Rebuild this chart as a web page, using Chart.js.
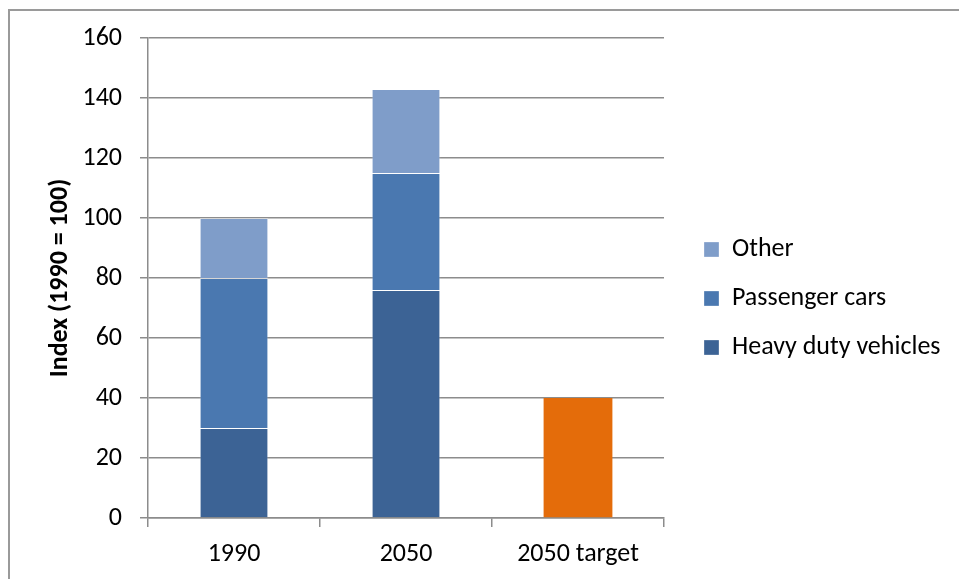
<!DOCTYPE html>
<html>
<head>
<meta charset="utf-8">
<script src="https://cdn.jsdelivr.net/npm/chart.js@4/dist/chart.umd.min.js"></script>
<style>
    html, body { margin: 0; padding: 0; background: #fff; }
    #wrap { position: relative; width: 959px; height: 579px; overflow: hidden; }
    #frame {
        position: absolute; left: 8px; top: 9px; width: 1000px; height: 700px;
        border-left: 2px solid #9a9a9a; border-top: 2px solid #9a9a9a;
        pointer-events: none;
    }
</style>
</head>
<body>
<div id="wrap">
    <canvas id="chart" width="959" height="579"></canvas>
    <div id="frame"></div>
</div>
<script>
// Chart data
const categories = ['1990', '2050', '2050 target'];
const heavyDuty = [30, 76, null];
const passengerCars = [50, 39, null];
const other = [20, 28, null];
const target = [null, null, 40];
const yTicks = [0, 20, 40, 60, 80, 100, 120, 140, 160];

const FONT = "Carlito, Lato, 'Open Sans', sans-serif";
const GRID = '#8c8c8c';

// legend gets a fixed width so the plot ends where the original does,
// then it is moved a bit right / up
const legendFix = {
    id: 'legendFix',
    beforeLayout(chart) {
        const lg = chart.legend;
        if (lg && !lg._fixed) {
            const fit = lg.fit.bind(lg);
            lg.fit = function () {
                fit();
                this.width = 295;
            };
            lg._fixed = true;
        }
    },
    afterLayout(chart) {
        const lg = chart.legend;
        if (lg) {
            lg.left += 17;
            lg.right += 17;
            lg.top -= 10;
            lg.bottom -= 10;
        }
    }
};

const ctx = document.getElementById('chart').getContext('2d');
new Chart(ctx, {
    type: 'bar',
    data: {
        labels: categories,
        datasets: [
            {
                label: 'Heavy duty vehicles',
                data: heavyDuty,
                backgroundColor: '#3c6395',
                borderColor: 'rgba(255,255,255,0.3)',
                borderWidth: 1
            },
            {
                label: 'Passenger cars',
                data: passengerCars,
                backgroundColor: '#4a78b0',
                borderColor: 'rgba(255,255,255,0.3)',
                borderWidth: 1
            },
            {
                label: 'Other',
                data: other,
                backgroundColor: '#7f9dc9',
                borderColor: 'rgba(255,255,255,0.3)',
                borderWidth: 1
            },
            {
                label: 'Target',
                data: target,
                backgroundColor: '#e46c0a',
                borderWidth: 0
            }
        ]
    },
    options: {
        responsive: false,
        animation: false,
        barPercentage: 0.4,
        categoryPercentage: 1.0,
        layout: {
            padding: { top: 38, right: 0, bottom: 0, left: 45 }
        },
        plugins: {
            tooltip: { enabled: false },
            legend: {
                position: 'right',
                reverse: true,
                labels: {
                    boxWidth: 15,
                    boxHeight: 15,
                    padding: 23,
                    color: '#000',
                    font: { family: FONT, size: 26 },
                    filter: item => item.text !== 'Target'
                }
            }
        },
        scales: {
            x: {
                stacked: true,
                afterFit: axis => { axis.height = 61; },
                grid: {
                    offset: true,
                    drawOnChartArea: false,
                    drawTicks: true,
                    tickLength: 9,
                    color: GRID,
                    lineWidth: 1.5
                },
                border: { display: true, color: GRID, width: 1.5 },
                ticks: {
                    color: '#000',
                    padding: 12,
                    font: { family: FONT, size: 26 }
                }
            },
            y: {
                stacked: true,
                min: 0,
                max: 160,
                afterFit: axis => { axis.width = 103; },
                afterBuildTicks: axis => {
                    axis.ticks = yTicks.map(v => ({ value: v }));
                },
                grid: {
                    color: GRID,
                    lineWidth: 1.5,
                    tickLength: 8
                },
                border: { display: true, color: GRID, width: 1.5 },
                ticks: {
                    color: '#000',
                    padding: 18,
                    font: { family: FONT, size: 26 }
                },
                title: {
                    display: true,
                    text: 'Index (1990 = 100)',
                    color: '#000',
                    padding: { top: 0, bottom: 0 },
                    font: { family: FONT, size: 26, weight: 'bold' }
                }
            }
        }
    },
    plugins: [legendFix]
});
</script>
</body>
</html>
